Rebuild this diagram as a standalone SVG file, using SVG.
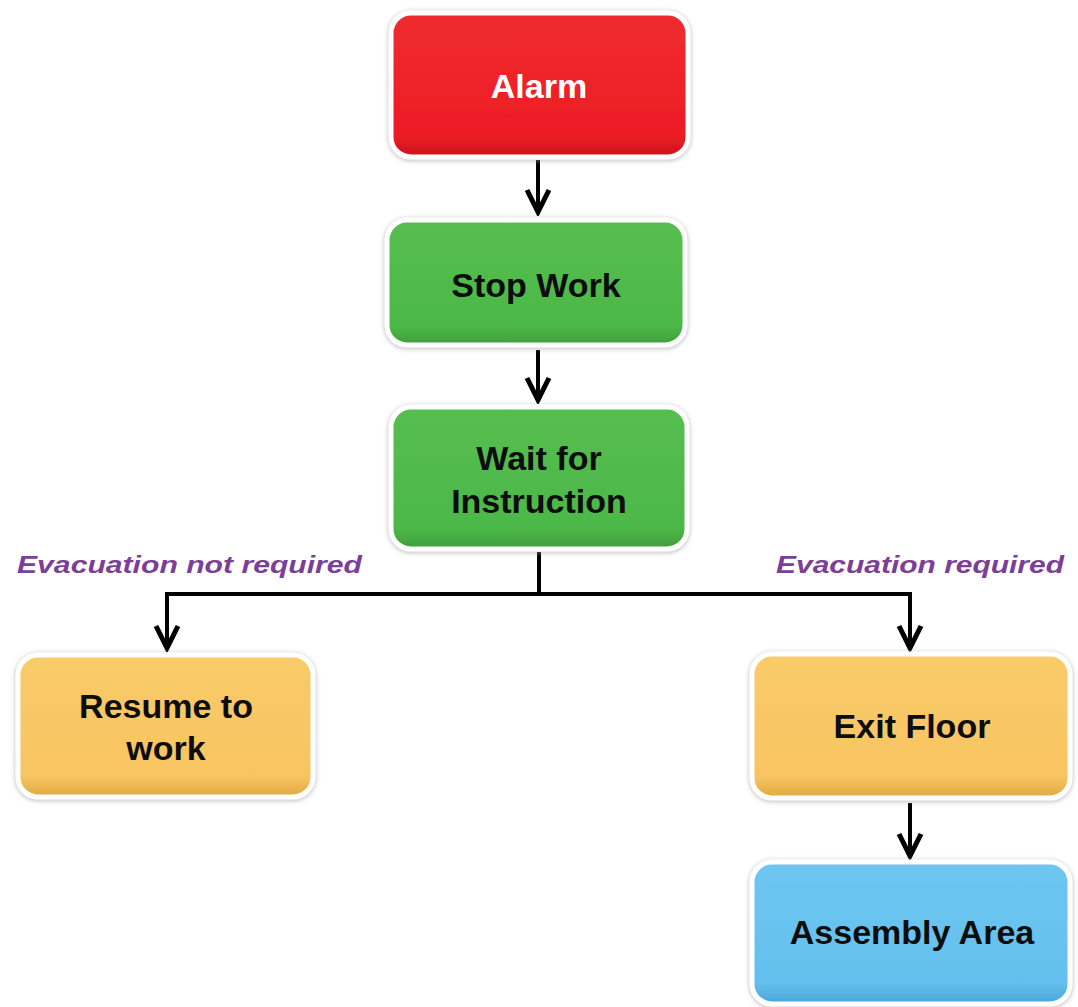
<svg xmlns="http://www.w3.org/2000/svg" width="1078" height="1007" viewBox="0 0 1078 1007">
<style>
  .box { stroke: #ffffff; stroke-width: 5; filter: url(#sh); }
  .lbl { font-family: "Liberation Sans", Arial, sans-serif; font-weight: bold; font-size: 34px; text-anchor: middle; fill: #0d0d0d; }
  .wht { fill: #ffffff; }
  .cond { font-family: "Liberation Sans", Arial, sans-serif; font-weight: bold; font-style: italic; font-size: 23px; fill: #7B3F98; }
  .conn { fill: none; stroke: #000000; stroke-width: 4; }
</style>
<defs>
  <filter id="sh" x="-10%" y="-10%" width="120%" height="125%">
    <feDropShadow dx="0" dy="1" stdDeviation="2.5" flood-color="#9a9a9a" flood-opacity="0.7"/>
  </filter>
  <linearGradient id="gRed" x1="0" y1="0" x2="0" y2="1">
    <stop offset="0" stop-color="#EF2D30"/>
    <stop offset="0.85" stop-color="#ED1C24"/>
    <stop offset="1" stop-color="#C9161C"/>
  </linearGradient>
  <linearGradient id="gGreen" x1="0" y1="0" x2="0" y2="1">
    <stop offset="0" stop-color="#55BE4F"/>
    <stop offset="0.85" stop-color="#4CB848"/>
    <stop offset="1" stop-color="#3E9D3A"/>
  </linearGradient>
  <linearGradient id="gOrange" x1="0" y1="0" x2="0" y2="1">
    <stop offset="0" stop-color="#F9CB69"/>
    <stop offset="0.85" stop-color="#F8C462"/>
    <stop offset="1" stop-color="#DFA940"/>
  </linearGradient>
  <linearGradient id="gBlue" x1="0" y1="0" x2="0" y2="1">
    <stop offset="0" stop-color="#6EC6F0"/>
    <stop offset="0.85" stop-color="#63C0EE"/>
    <stop offset="1" stop-color="#4AA5D6"/>
  </linearGradient>
  <marker id="arr" markerUnits="userSpaceOnUse" markerWidth="30" markerHeight="30" viewBox="-26 -15 30 30" refX="0" refY="0" orient="auto">
    <path d="M -22,-11 L 0,0 L -22,11" fill="none" stroke="#000000" stroke-width="5" stroke-linejoin="miter"/>
  </marker>
</defs>
<rect width="1078" height="1007" fill="#ffffff"/>

<g id="connectors">
  <path class="conn" d="M538,160 V212" marker-end="url(#arr)"/>
  <path class="conn" d="M538,350 V400" marker-end="url(#arr)"/>
  <path class="conn" d="M539,552 V594 H167 V648" marker-end="url(#arr)"/>
  <path class="conn" d="M539,594 H910 V648" marker-end="url(#arr)"/>
  <path class="conn" d="M910,803 V856" marker-end="url(#arr)"/>
</g>

<g id="label-not-required">
  <text class="cond" x="17" y="573" textLength="345" lengthAdjust="spacingAndGlyphs">Evacuation  not required</text>
</g>
<g id="label-required">
  <text class="cond" x="776" y="573" textLength="288" lengthAdjust="spacingAndGlyphs">Evacuation  required</text>
</g>

<g id="alarm">
  <rect class="box" x="391" y="13" width="297" height="144" rx="20" fill="url(#gRed)"/>
  <text class="lbl wht" x="539" y="98">Alarm</text>
</g>
<g id="stop-work">
  <rect class="box" x="387" y="220" width="298" height="125" rx="20" fill="url(#gGreen)"/>
  <text class="lbl" x="536" y="297">Stop Work</text>
</g>
<g id="wait-for-instruction">
  <rect class="box" x="391" y="407" width="296" height="142" rx="20" fill="url(#gGreen)"/>
  <text class="lbl" x="539" y="470">Wait for</text>
  <text class="lbl" x="539" y="513">Instruction</text>
</g>
<g id="resume-to-work">
  <rect class="box" x="18" y="655" width="295" height="142" rx="20" fill="url(#gOrange)"/>
  <text class="lbl" x="166" y="718">Resume to</text>
  <text class="lbl" x="166" y="760">work</text>
</g>
<g id="exit-floor">
  <rect class="box" x="752" y="654" width="318" height="144" rx="20" fill="url(#gOrange)"/>
  <text class="lbl" x="912" y="738">Exit Floor</text>
</g>
<g id="assembly-area">
  <rect class="box" x="752" y="862" width="318" height="142" rx="20" fill="url(#gBlue)"/>
  <text class="lbl" x="912" y="944">Assembly Area</text>
</g>
</svg>
